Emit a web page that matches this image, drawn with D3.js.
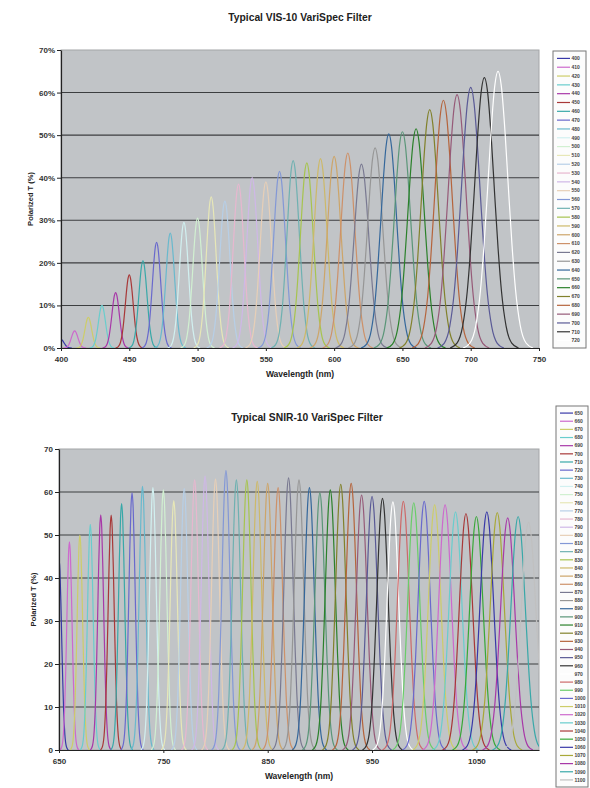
<!DOCTYPE html>
<html>
<head>
<meta charset="utf-8">
<script src="https://cdn.jsdelivr.net/npm/d3@7/dist/d3.min.js"></script>
<style>
  body { margin: 0; background: #fff; }
  text { font-family: "Liberation Sans", Arial, sans-serif; }
</style>
</head>
<body>
<svg id="chart" width="590" height="788"></svg>
<script>
// ---- data ----

// VIS-10: filter setting (nm), peak transmission (%), FWHM (nm)
const visCenters = [400, 410, 420, 430, 440, 450, 460, 470, 480, 490, 500, 510, 520, 530, 540, 550, 560,
  570, 580, 590, 600, 610, 620, 630, 640, 650, 660, 670, 680, 690, 700, 710, 720];
const visPeaks = [2.0, 4.0, 7.2, 10.0, 13.0, 17.2, 20.5, 24.8, 27.0, 29.5, 30.5, 35.5, 34.5, 38.5, 40.0, 39.0, 41.5,
  44.0, 43.5, 44.5, 45.0, 45.8, 43.2, 47.0, 50.3, 50.8, 51.5, 56.0, 58.2, 59.5, 61.2, 63.5, 65.0];
const visWidths = [5.3, 5.6, 5.8, 6.1, 6.4, 6.7, 7.0, 7.3, 7.6, 7.9, 8.3, 8.6, 8.9, 9.3, 9.6, 10.0, 10.4,
  10.7, 11.1, 11.5, 11.9, 12.3, 12.7, 13.1, 13.5, 14.0, 14.4, 14.8, 15.3, 15.7, 16.2, 16.7, 17.1];

// SNIR-10
const snirCenters = [650, 660, 670, 680, 690, 700, 710, 720, 730, 740, 750, 760, 770, 780, 790, 800, 810, 820,
  830, 840, 850, 860, 870, 880, 890, 900, 910, 920, 930, 940, 950, 960, 970, 980, 990, 1000, 1010, 1020,
  1030, 1040, 1050, 1060, 1070, 1080, 1090, 1100];
const snirPeaks = [44.5, 48.4, 50.0, 52.5, 54.7, 54.6, 57.3, 59.8, 61.3, 61.0, 60.5, 58.0, 60.8, 62.8, 63.7, 63.0, 65.0, 62.8,
  62.8, 62.5, 62.0, 61.0, 63.3, 62.8, 61.0, 59.8, 60.5, 61.8, 62.0, 59.3, 59.0, 58.5, 57.7, 57.8, 57.5, 57.8, 57.0, 57.0,
  55.4, 55.0, 54.3, 55.4, 55.2, 54.0, 54.3, 53.0];
const snirWidths = [5.9, 6.0, 6.2, 6.4, 6.6, 6.8, 7.0, 7.2, 7.4, 7.6, 7.8, 8.0, 8.2, 8.4, 8.6, 8.9, 9.1, 9.3,
  9.5, 9.8, 10.0, 10.2, 10.5, 10.7, 11.0, 11.2, 11.5, 11.7, 12.0, 12.2, 12.5, 12.8, 13.0, 13.3, 13.6, 13.8, 14.1, 14.4,
  14.7, 15.0, 15.3, 15.6, 15.9, 16.1, 16.4, 16.8];

// passband shape, sampled relative to the peak (offset in FWHM units)
const profileOffsets = [-1.5, -1.2, -0.95, -0.75, -0.6, -0.45, -0.3, -0.15, 0, 0.15, 0.3, 0.45, 0.6, 0.75, 0.95, 1.2, 1.5];
const profileValues = [0, 0.018, 0.082, 0.21, 0.37, 0.57, 0.78, 0.94, 1, 0.94, 0.78, 0.57, 0.37, 0.21, 0.082, 0.018, 0];

// axis ticks
const visXTicks = [400, 450, 500, 550, 600, 650, 700, 750];
const snirXTicks = [650, 750, 850, 950, 1050];
const yTicks = [0, 10, 20, 30, 40, 50, 60, 70];

// spreadsheet default series colours, in series order
const seriesColors = ["#000080", "#FF00FF", "#FFFF00", "#00FFFF", "#800080", "#800000", "#008080", "#0000FF",
  "#00CCFF", "#CCFFFF", "#CCFFCC", "#FFFF99", "#99CCFF", "#FF99CC", "#CC99FF", "#FFCC99",
  "#3366FF", "#33CCCC", "#99CC00", "#FFCC00", "#FF9900", "#FF6600", "#666699", "#969696",
  "#003366", "#339966", "#003300", "#333300", "#993300", "#993366", "#333399", "#333333",
  "#FFFFFF", "#FF0000", "#00FF00", "#0000FF", "#FFFF00", "#FF00FF", "#00FFFF", "#800000",
  "#008000", "#000080", "#808000", "#800080", "#008080", "#C0C0C0"];

const svg = d3.select("#chart");
const defs = svg.append("defs");

// the scan is washed out: take saturation down and lift the bright hues a bit
const soften = c => {
  const h = d3.hsl(c);
  const s0 = isNaN(h.s) ? 0 : h.s;
  h.l = h.l + (0.84 - h.l) * 0.32 * s0;
  h.s = s0 * 0.5;
  return h.formatHex();
};

function drawChart(c) {
  const x = d3.scaleLinear().domain(c.xDomain).range([c.left, c.right]);
  const y = d3.scaleLinear().domain([0, 70]).range([c.bottom, c.top]);
  const g = svg.append("g");

  // plot area
  g.append("rect")
    .attr("x", c.left).attr("y", c.top)
    .attr("width", c.right - c.left).attr("height", c.bottom - c.top)
    .attr("fill", "#c1c4c7")
    .attr("stroke", "#a4a6a8");

  // gridlines
  g.append("g")
    .selectAll("line")
    .data(yTicks.filter(t => t > 0 && t < 70))
    .join("line")
    .attr("x1", c.left).attr("x2", c.right)
    .attr("y1", d => y(d)).attr("y2", d => y(d))
    .attr("stroke", "#3c3e40")
    .attr("stroke-width", 1.1);

  // clip to plot area
  defs.append("clipPath").attr("id", c.id + "-clip")
    .append("rect")
    .attr("x", c.left).attr("y", c.top - 2)
    .attr("width", c.right - c.left).attr("height", c.bottom - c.top + 2);

  const line = d3.line()
    .x(d => x(d[0]))
    .y(d => y(d[1]))
    .curve(d3.curveMonotoneX);

  const series = c.centers.map((w, i) => ({
    name: w,
    color: soften(seriesColors[i]),
    points: profileOffsets.map((o, k) => [w + o * c.widths[i], c.peaks[i] * profileValues[k]])
  }));

  g.append("g")
    .attr("clip-path", `url(#${c.id}-clip)`)
    .selectAll("path")
    .data(series)
    .join("path")
    .attr("d", d => line(d.points))
    .attr("fill", "none")
    .attr("stroke", d => d.color)
    .attr("stroke-width", 1.2);

  // axes
  const yAxis = d3.axisLeft(y).tickValues(yTicks).tickFormat(c.yFormat).tickSize(4).tickSizeOuter(0);
  const gy = g.append("g").attr("transform", `translate(${c.left},0)`).call(yAxis);
  const xAxis = d3.axisBottom(x).tickValues(c.xTicks).tickFormat(d3.format("d")).tickSize(3).tickSizeOuter(0);
  const gx = g.append("g").attr("transform", `translate(0,${c.bottom})`).call(xAxis);

  [gy, gx].forEach(a => {
    a.select(".domain").attr("stroke", "#222").attr("stroke-width", 1.2);
    a.selectAll(".tick line").attr("stroke", "#222");
    a.selectAll(".tick text")
      .attr("fill", "#333")
      .style("font-size", "8px")
      .style("font-weight", "bold");
  });
  gy.selectAll(".tick text").attr("x", -6);
  gx.selectAll(".tick text").attr("y", 8);

  // titles
  g.append("text")
    .attr("x", c.titleX).attr("y", c.titleY)
    .attr("text-anchor", "middle")
    .style("font-size", "10.3px").style("font-weight", "bold")
    .attr("fill", "#222")
    .text(c.title);

  g.append("text")
    .attr("x", (c.left + c.right) / 2).attr("y", c.bottom + 29)
    .attr("text-anchor", "middle")
    .style("font-size", "8.5px").style("font-weight", "bold")
    .attr("fill", "#222")
    .text("Wavelength (nm)");

  g.append("text")
    .attr("transform", `translate(${c.yLabelX},${(c.top + c.bottom) / 2}) rotate(-90)`)
    .attr("text-anchor", "middle")
    .style("font-size", "7.5px").style("font-weight", "bold")
    .attr("fill", "#222")
    .text("Polarized T (%)");

  // legend
  const lg = g.append("g");
  lg.append("rect")
    .attr("x", c.legend.x).attr("y", c.legend.y)
    .attr("width", c.legend.w).attr("height", c.legend.h)
    .attr("fill", "#fcfcfc")
    .attr("stroke", "#777");
  const step = (c.legend.h - 6) / series.length;
  const item = lg.selectAll("g.item")
    .data(series)
    .join("g")
    .attr("class", "item")
    .attr("transform", (d, i) => `translate(${c.legend.x},${c.legend.y + 3 + step * (i + 0.5)})`);
  item.append("line")
    .attr("x1", 4).attr("x2", 17)
    .attr("stroke", d => d.color)
    .attr("stroke-width", 1.2);
  item.append("text")
    .attr("x", 18.5).attr("dy", "0.35em")
    .style("font-size", "5px").style("font-weight", "bold")
    .attr("fill", "#444")
    .text(d => d.name);
}

drawChart({
  id: "vis",
  title: "Typical VIS-10 VariSpec Filter",
  titleX: 300, titleY: 21,
  left: 61, right: 539, top: 50, bottom: 348,
  xDomain: [400, 750], xTicks: visXTicks,
  yFormat: d => d + "%",
  yLabelX: 33,
  centers: visCenters, peaks: visPeaks, widths: visWidths,
  legend: { x: 553, y: 51, w: 33, h: 297 }
});

drawChart({
  id: "snir",
  title: "Typical SNIR-10 VariSpec Filter",
  titleX: 307, titleY: 421,
  left: 59, right: 539, top: 449, bottom: 750,
  xDomain: [650, 1110], xTicks: snirXTicks,
  yFormat: d => d,
  yLabelX: 36,
  centers: snirCenters, peaks: snirPeaks, widths: snirWidths,
  legend: { x: 556, y: 406, w: 32, h: 381 }
});
</script>
</body>
</html>
